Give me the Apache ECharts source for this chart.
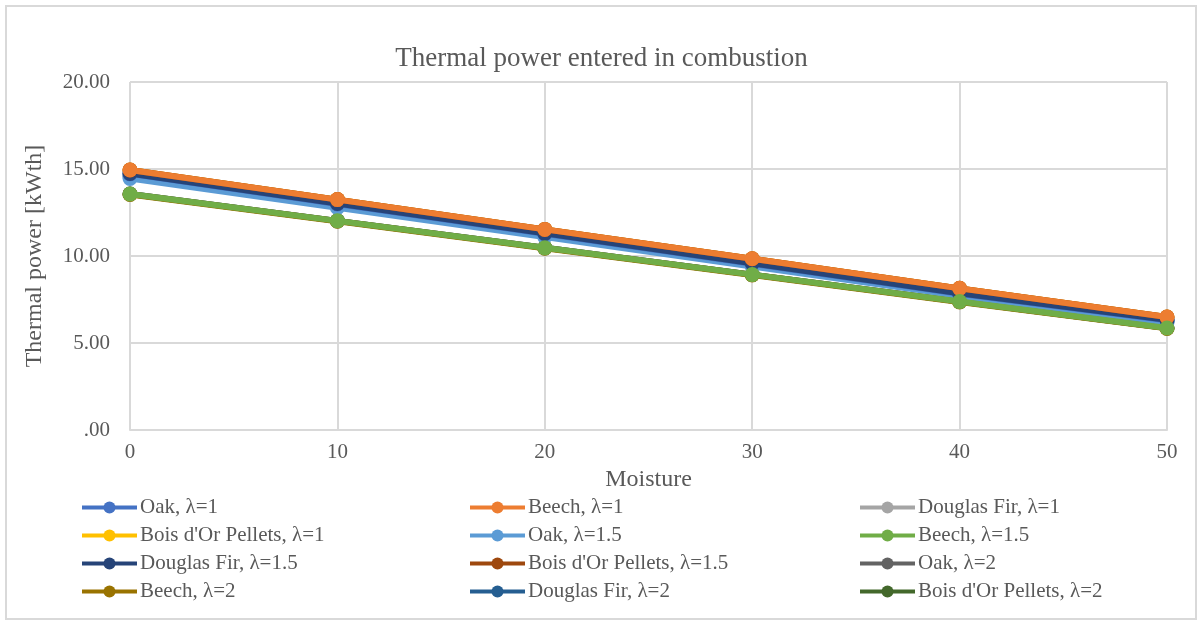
<!DOCTYPE html>
<html>
<head>
<meta charset="utf-8">
<script src="https://cdn.jsdelivr.net/npm/echarts@6/dist/echarts.min.js"></script>
<style>
  html, body { margin: 0; padding: 0; background: #fff; }
  #chart { width: 1203px; height: 626px; }
</style>
</head>
<body>
<div id="chart"></div>
<script>
// 横轴：含水率
const moisture = ['0', '10', '20', '30', '40', '50'];

const seriesNames = [
  'Oak, λ=1', 'Beech, λ=1', 'Douglas Fir, λ=1', "Bois d'Or Pellets, λ=1",
  'Oak, λ=1.5', 'Beech, λ=1.5', 'Douglas Fir, λ=1.5', "Bois d'Or Pellets, λ=1.5",
  'Oak, λ=2', 'Beech, λ=2', 'Douglas Fir, λ=2', "Bois d'Or Pellets, λ=2",
];

const seriesColors = [
  '#4472C4', '#ED7D31', '#A5A5A5', '#FFC000',
  '#5B9BD5', '#70AD47', '#264478', '#9E480E',
  '#636363', '#997300', '#255E91', '#43682B',
];

// 各系列数值（kWth）
const oak1 = [14.72, 12.99, 11.27, 9.55, 7.83, 6.30];
const beech1 = [14.94, 13.24, 11.53, 9.84, 8.14, 6.49];
const fir1 = [14.70, 12.97, 11.25, 9.53, 7.81, 6.28];
const pellets1 = [14.94, 13.24, 11.53, 9.84, 8.14, 6.49];
const oak15 = [14.45, 12.77, 11.09, 9.40, 7.72, 6.18];
const beech15 = [13.56, 12.02, 10.47, 8.93, 7.38, 5.86];
const fir15 = [14.74, 13.02, 11.30, 9.58, 7.86, 6.33];
const pellets15 = [14.94, 13.24, 11.53, 9.84, 8.14, 6.49];
const oak2 = [13.56, 12.02, 10.47, 8.93, 7.38, 5.86];
const beech2 = [13.54, 12.00, 10.45, 8.91, 7.36, 5.84];
const fir2 = [14.60, 12.90, 11.20, 9.50, 7.79, 6.26];
const pellets2 = [13.56, 12.02, 10.47, 8.93, 7.38, 5.86];

const seriesValues = [
  oak1, beech1, fir1, pellets1,
  oak15, beech15, fir15, pellets15,
  oak2, beech2, fir2, pellets2,
];

// 绘制顺序（越大越靠上）
const seriesZ = [8, 11, 6, 4, 7, 12, 9, 10, 3, 5, 2, 1];

// 图例分三列
const legendCol1 = [0, 3, 6, 9].map(i => seriesNames[i]);
const legendCol2 = [1, 4, 7, 10].map(i => seriesNames[i]);
const legendCol3 = [2, 5, 8, 11].map(i => seriesNames[i]);

const fontFamily = '"Liberation Serif", "Times New Roman", serif';
const textColor = '#595959';

const myChart = echarts.init(document.getElementById('chart'));

const series = seriesNames.map((name, i) => ({
  name,
  type: 'line',
  data: seriesValues[i],
  symbol: 'circle',
  symbolSize: 15,
  z: seriesZ[i],
  color: seriesColors[i],
  lineStyle: { width: 6, color: seriesColors[i] },
  itemStyle: { color: seriesColors[i] },
}));

const legendBase = {
  orient: 'vertical',
  top: 497,
  padding: 0,
  itemWidth: 55,
  itemHeight: 15,
  itemGap: 7,
  lineStyle: { width: 4 },
  textStyle: { fontFamily, fontSize: 21, lineHeight: 20, color: textColor, padding: [0, 0, 0, -2] },
};

const option = {
  animation: false,
  title: {
    text: 'Thermal power entered in combustion',
    left: 'center',
    top: 40,
    textStyle: { fontFamily, fontSize: 27, fontWeight: 'normal', color: textColor },
  },
  graphic: [{
    type: 'rect',
    shape: { x: 6, y: 6, width: 1190, height: 613 },
    style: { fill: 'none', stroke: '#D9D9D9', lineWidth: 2 },
    silent: true,
  }],
  grid: { left: 130, right: 36, top: 82, bottom: 196 },
  legend: [
    Object.assign({ left: 80, data: legendCol1 }, legendBase),
    Object.assign({ left: 468, data: legendCol2 }, legendBase),
    Object.assign({ left: 858, data: legendCol3 }, legendBase),
  ],
  xAxis: {
    type: 'category',
    data: moisture,
    boundaryGap: false,
    name: 'Moisture',
    nameLocation: 'middle',
    nameGap: 30,
    nameTextStyle: { fontFamily, fontSize: 24, color: textColor },
    axisLine: { lineStyle: { color: '#D9D9D9', width: 2 } },
    axisTick: { show: false },
    axisLabel: { fontFamily, fontSize: 21, color: textColor, margin: 12 },
    splitLine: { show: true, lineStyle: { color: '#D9D9D9', width: 2 } },
  },
  yAxis: {
    type: 'value',
    min: 0,
    max: 20,
    interval: 5,
    name: 'Thermal power [kWth]',
    nameLocation: 'middle',
    nameGap: 83,
    nameTextStyle: { fontFamily, fontSize: 24, color: textColor },
    axisLine: { show: false },
    axisTick: { show: false },
    axisLabel: {
      fontFamily, fontSize: 21, color: textColor, margin: 20,
      formatter: v => (v === 0 ? '.00' : v.toFixed(2)),
    },
    splitLine: { lineStyle: { color: '#D9D9D9', width: 2 } },
  },
  series,
};

myChart.setOption(option);
</script>
</body>
</html>
